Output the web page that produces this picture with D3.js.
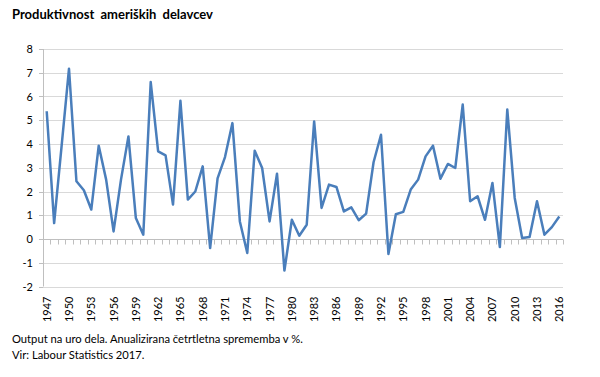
<!DOCTYPE html>
<html>
<head>
<meta charset="utf-8">
<script src="https://cdn.jsdelivr.net/npm/d3@7"></script>
<style>
  body { margin: 0; background: #fff; }
  svg { font-family: Lato, "Open Sans", sans-serif; display: block; }
  .chart-title { font-size: 13px; font-weight: bold; fill: #000; word-spacing: 3px; }
  .tick-label { font-size: 11px; fill: #000; }
  .note { font-size: 11.2px; fill: #000; }
</style>
</head>
<body>
<svg id="chart" width="600" height="377"></svg>
<script>
const years = d3.range(1947, 2017);
const productivity = [
  5.38, 0.67, 3.9, 7.17, 2.43, 2.05, 1.24, 3.93, 2.5, 0.32,
  2.5, 4.32, 0.88, 0.18, 6.61, 3.69, 3.52, 1.45, 5.82, 1.66,
  2.0, 3.06, -0.38, 2.55, 3.45, 4.88, 0.74, -0.59, 3.72, 2.99,
  0.74, 2.75, -1.33, 0.81, 0.14, 0.6, 4.95, 1.31, 2.29, 2.19,
  1.16, 1.33, 0.79, 1.07, 3.23, 4.39, -0.63, 1.04, 1.14, 2.08,
  2.5, 3.48, 3.93, 2.54, 3.16, 2.99, 5.66, 1.59, 1.8, 0.81,
  2.36, -0.34, 5.45, 1.73, 0.04, 0.08, 1.59, 0.18, 0.5, 0.95
];
const yTicks = d3.range(-2, 9);
const xLabelYears = d3.range(1947, 2017, 3);

const svg = d3.select("#chart");
const margin = { top: 49, right: 37, bottom: 90, left: 43 };

const g = svg.append("g")
  .attr("transform", `translate(${margin.left},${margin.top})`);

const x = d3.scaleBand()
  .domain(years)
  .range([0, 520]);

const y = d3.scaleLinear()
  .domain([-2, 8])
  .range([237.5, 0]);

// gridlines
g.selectAll(".grid")
  .data(yTicks)
  .enter()
  .append("line")
  .attr("class", "grid")
  .attr("x1", 0)
  .attr("x2", x.range()[1])
  .attr("y1", d => Math.round(y(d)) + 0.5)
  .attr("y2", d => Math.round(y(d)) + 0.5)
  .attr("stroke", "#d9d9d9")
  .attr("stroke-width", 1);

// y axis line
g.append("line")
  .attr("x1", 0.5).attr("x2", 0.5)
  .attr("y1", y(8)).attr("y2", y(-2))
  .attr("stroke", "#bfbfbf");

g.selectAll(".ytick")
  .data(yTicks)
  .enter()
  .append("line")
  .attr("x1", -4).attr("x2", 0)
  .attr("y1", d => Math.round(y(d)) + 0.5)
  .attr("y2", d => Math.round(y(d)) + 0.5)
  .attr("stroke", "#bfbfbf");

g.selectAll(".ylabel")
  .data(yTicks)
  .enter()
  .append("text")
  .attr("class", "tick-label")
  .attr("x", -10)
  .attr("y", d => y(d) + 4)
  .attr("text-anchor", "end")
  .text(d => d);

// category axis sits at zero
const zeroY = Math.round(y(0)) + 0.5;
g.append("line")
  .attr("x1", 0).attr("x2", x.range()[1])
  .attr("y1", zeroY).attr("y2", zeroY)
  .attr("stroke", "#bfbfbf");

g.selectAll(".xtick")
  .data(years.concat([2017]))
  .enter()
  .append("line")
  .attr("x1", (d, i) => Math.round(i * x.step()) + 0.5)
  .attr("x2", (d, i) => Math.round(i * x.step()) + 0.5)
  .attr("y1", zeroY)
  .attr("y2", zeroY + 5)
  .attr("stroke", "#bfbfbf");

// rotated year labels at the bottom
g.selectAll(".xlabel")
  .data(xLabelYears)
  .enter()
  .append("text")
  .attr("class", "tick-label")
  .attr("transform", d => `translate(${x(d) + x.bandwidth() / 2 + 4},${y(-2) + 10}) rotate(-90)`)
  .attr("text-anchor", "end")
  .text(d => d);

const line = d3.line()
  .x((d, i) => x(years[i]) + x.bandwidth() / 2)
  .y(d => y(d));

g.append("path")
  .datum(productivity)
  .attr("fill", "none")
  .attr("stroke", "#4a7ebb")
  .attr("stroke-width", 2.5)
  .attr("stroke-linejoin", "round")
  .attr("d", line);

svg.append("text")
  .attr("class", "chart-title")
  .attr("x", 12)
  .attr("y", 19)
  .text("Produktivnost ameriških delavcev");

svg.append("text")
  .attr("class", "note")
  .attr("x", 12)
  .attr("y", 343)
  .text("Output na uro dela. Anualizirana četrtletna sprememba v %.");

svg.append("text")
  .attr("class", "note")
  .attr("x", 12)
  .attr("y", 359)
  .text("Vir: Labour Statistics 2017.");
</script>
</body>
</html>
